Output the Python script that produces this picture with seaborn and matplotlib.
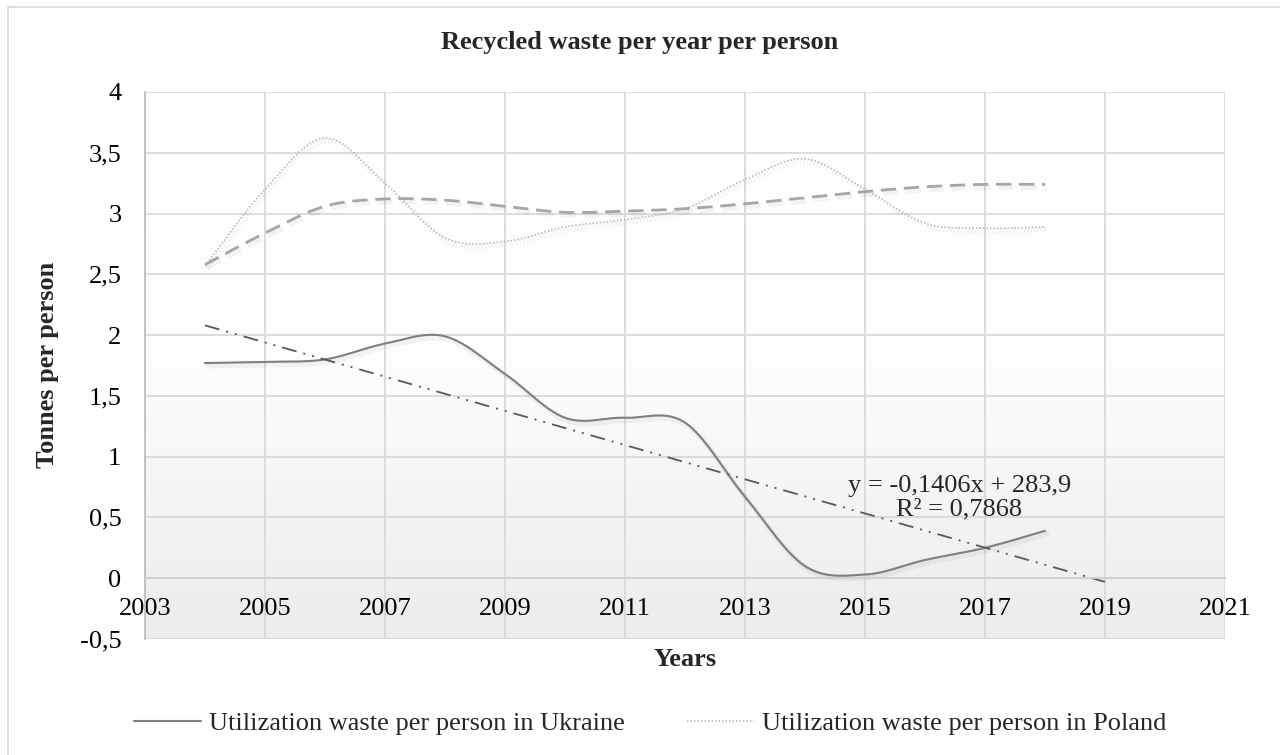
import numpy as np
import pandas as pd
import matplotlib
matplotlib.use("Agg")
import matplotlib.pyplot as plt
import seaborn as sns
from matplotlib.colors import LinearSegmentedColormap
from matplotlib.lines import Line2D
from matplotlib.patches import Rectangle
import matplotlib.patheffects as pe

# data
years = [2004, 2005, 2006, 2007, 2008, 2009, 2010, 2011, 2012, 2013, 2014, 2015, 2016, 2017, 2018]
ukraine = [1.77, 1.78, 1.80, 1.93, 1.99, 1.68, 1.32, 1.32, 1.28, 0.67, 0.10, 0.03, 0.15, 0.25, 0.39]
poland = [2.57, 3.20, 3.62, 3.25, 2.80, 2.77, 2.89, 2.95, 3.04, 3.28, 3.45, 3.20, 2.92, 2.88, 2.89]
poland_trend = [2.58, 2.84, 3.06, 3.12, 3.11, 3.06, 3.01, 3.02, 3.04, 3.08, 3.13, 3.18, 3.22, 3.24, 3.24]
lin_trend_years = [2004, 2019]
lin_trend_vals = [2.08, -0.03]

x_ticks = [2003, 2005, 2007, 2009, 2011, 2013, 2015, 2017, 2019, 2021]
y_ticks = [-0.5, 0, 0.5, 1, 1.5, 2, 2.5, 3, 3.5, 4]
y_tick_labels = ["-0,5", "0", "0,5", "1", "1,5", "2", "2,5", "3", "3,5", "4"]

legend_labels = ["Utilization waste per person in Ukraine", "Utilization waste per person in Poland"]
equation = "y = -0,1406x + 283,9\nR² = 0,7868"


def smooth(x, y, n=24):
    # Excel-style smoothed line (bezier through the points)
    x = np.asarray(x, float)
    y = np.asarray(y, float)
    px = np.concatenate([[x[0]], x, [x[-1]]])
    py = np.concatenate([[y[0]], y, [y[-1]]])
    t = np.linspace(0, 1, n, endpoint=False)
    xs, ys = [], []
    for i in range(1, len(px) - 2):
        for p, out in ((px, xs), (py, ys)):
            p0, p1, p2, p3 = p[i - 1], p[i], p[i + 1], p[i + 2]
            c1 = p1 + (p2 - p0) / 6
            c2 = p2 - (p3 - p1) / 6
            b = (1 - t) ** 3 * p1 + 3 * (1 - t) ** 2 * t * c1 + 3 * (1 - t) * t ** 2 * c2 + t ** 3 * p2
            out.extend(b)
    xs.append(x[-1])
    ys.append(y[-1])
    return np.array(xs), np.array(ys)


sns.set_theme(style="white")
plt.rcParams["font.family"] = ["Liberation Serif", "DejaVu Serif"]
FS = 19

fig = plt.figure(figsize=(12.8, 7.55), dpi=100)
fig.patch.set_facecolor("white")
ax = fig.add_axes([145 / 1280, 1 - 639 / 755, 1080 / 1280, 547 / 755])

# gradient plot background
cmap = LinearSegmentedColormap.from_list("bg", ["#ffffff", "#fdfdfd", "#ececec"])
ax.imshow(np.linspace(0, 1, 256).reshape(-1, 1), cmap=cmap, extent=(0, 1, 0, 1),
          transform=ax.transAxes, aspect="auto", zorder=0)

shadow = [pe.SimpleLineShadow(offset=(1.5, -2), shadow_color="black", alpha=0.045, linewidth=4), pe.Normal()]

ux, uy = smooth(years, ukraine)
sns.lineplot(x=ux, y=uy, sort=False, estimator=None, color="#7f7f7f", linewidth=1.5, ax=ax)
ax.lines[-1].set_path_effects(shadow)

tx, ty = smooth(years, poland_trend)
sns.lineplot(x=tx, y=ty, sort=False, estimator=None, color="#a6a6a6", linewidth=2.0, ax=ax)
ax.lines[-1].set_linestyle((0, (5.5, 2.8)))
ax.lines[-1].set_path_effects(shadow)

px_, py_ = smooth(years, poland)
sns.lineplot(x=px_, y=py_, sort=False, estimator=None, color="#b8b8b8", linewidth=1.2, ax=ax)
ax.lines[-1].set_linestyle((0, (0.9, 1.2)))
ax.lines[-1].set_path_effects(shadow)

sns.lineplot(x=lin_trend_years, y=lin_trend_vals, sort=False, estimator=None, color="#595959", linewidth=1.3, ax=ax)
ax.lines[-1].set_linestyle((0, (8.3, 3.9, 1.1, 3.9, 1.1, 3.9)))

ax.text(2016.57, 0.665, equation, ha="center", va="center", fontsize=FS, linespacing=1.1, zorder=5)

ax.set_xlim(2003, 2021)
ax.set_ylim(-0.5, 4)
ax.set_xticks(x_ticks)
ax.set_xticklabels([str(v) for v in x_ticks])
ax.set_yticks(y_ticks)
ax.set_yticklabels(y_tick_labels)
ax.tick_params(axis="x", length=0, pad=14, labelsize=FS, colors="black")
ax.tick_params(axis="y", length=0, pad=17, labelsize=FS, colors="black")
ax.grid(True, color="#d9d9d9", linewidth=1.3)
ax.set_axisbelow(True)
ax.spines["bottom"].set_position(("data", 0))
ax.spines["bottom"].set_color("#d0d0d0")
ax.spines["bottom"].set_linewidth(1.3)
ax.spines["left"].set_color("#bfbfbf")
ax.spines["left"].set_linewidth(1.3)
for s in ["top", "right"]:
    ax.spines[s].set_visible(False)
ax.set_xlabel("")
ax.set_ylabel("")

fig.text(0.5, 1 - 43 / 755, "Recycled waste per year per person", ha="center", va="center",
         fontsize=FS, fontweight="bold")
fig.text(48 / 1280, 1 - 365 / 755, "Tonnes per person", ha="center", va="center", rotation=90,
         fontsize=FS, fontweight="bold")
fig.text(685 / 1280, 1 - 660 / 755, "Years", ha="center", va="center", fontsize=FS, fontweight="bold")

handles = [Line2D([], [], color="#7f7f7f", linewidth=1.5),
           Line2D([], [], color="#b8b8b8", linewidth=1.2, linestyle=(0, (0.9, 1.2)))]
fig.legend(handles, legend_labels, loc="center", bbox_to_anchor=(650 / 1280, 1 - 723 / 755), ncol=2,
           frameon=False, fontsize=FS, handlelength=2.55, handletextpad=0.3, columnspacing=2.35)

# outer chart border
fig.add_artist(Rectangle((8 / 1280, -0.05), 1.2, 1 - 7 / 755 + 0.05, transform=fig.transFigure,
                         fill=False, edgecolor="#d9d9d9", linewidth=1.2))

fig.savefig("out.png", dpi=100)
